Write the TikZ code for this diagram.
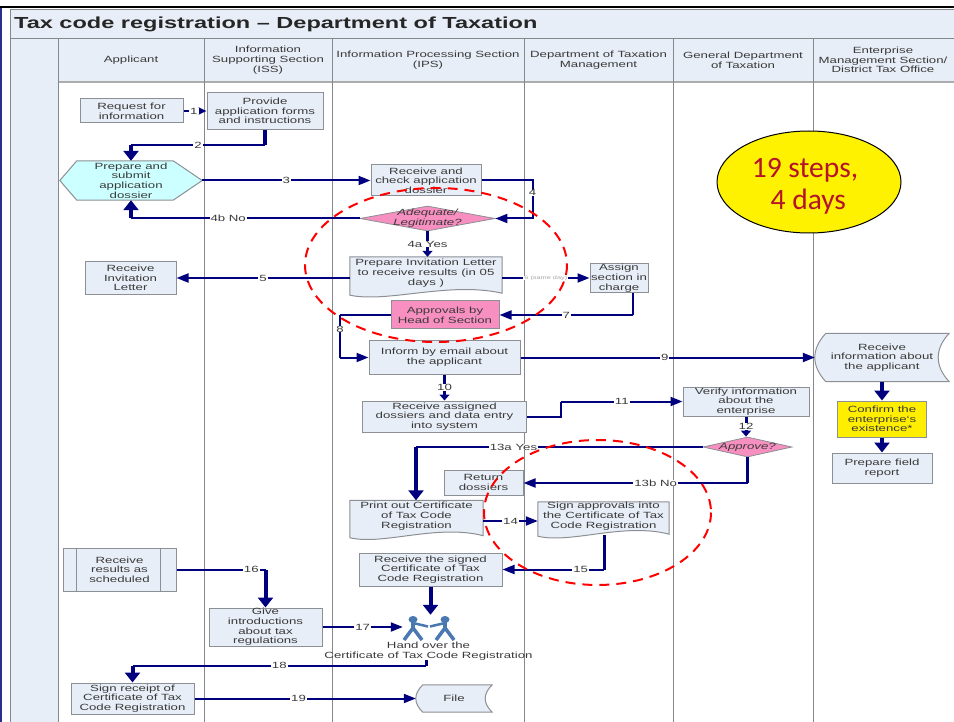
\documentclass[tikz,border=0pt]{standalone}
\usepackage{fontspec}
\setmainfont[FakeStretch=1.47]{Liberation Sans}
\newfontfamily\notefont{Carlito}
\definecolor{flowblue}{HTML}{00007F}
\definecolor{boxfill}{HTML}{E8EEF7}
\definecolor{boxline}{HTML}{8C9094}
\definecolor{textgray}{HTML}{3A3A3A}
\definecolor{laneline}{HTML}{85888C}
\definecolor{pinkfill}{HTML}{F78FC0}
\definecolor{cyanfill}{HTML}{CCFFFF}
\definecolor{confirmfill}{HTML}{FFEE00}
\definecolor{stepsred}{HTML}{B5122B}
\definecolor{manblue}{HTML}{4A78B0}
\definecolor{sideblue}{HTML}{2C2E8C}
\usetikzlibrary{
    arrows.meta,
    backgrounds,
    calc,
    shapes.geometric
}

\begin{document}
\begin{tikzpicture}[
    x=1pt,
    y=-1pt,
    every node/.style = {
        align=center,
        inner sep=0pt,
        text=textgray,
        font=\fontsize{9}{9.7}\selectfont
    },
    wh/.style 2 args = {
        minimum width=#1pt,
        minimum height=#2pt
    },
    box/.style = {
        draw=boxline,
        fill=boxfill,
        line width=1pt
    },
    decision/.style = {
        draw=boxline,
        fill=pinkfill,
        diamond,
        line width=0.8pt
    },
    shapeline/.style = {
        draw=boxline,
        fill=boxfill,
        line width=1pt
    },
    flow/.style = {
        draw=flowblue,
        line width=2pt
    },
    flowto/.style = {
        flow,
        -{Triangle[length=12pt,width=9pt]}
    },
    stem/.style = {
        draw=flowblue,
        line width=4pt
    },
    drop/.style = {
        stem,
        -{Triangle[length=10pt,width=15pt]}
    },
    smalldrop/.style = {
        draw=flowblue,
        line width=3pt,
        -{Triangle[length=6pt,width=10pt]}
    },
    num/.style = {
        fill=white,
        inner xsep=1pt
    },
    reddash/.style = {
        draw=red,
        line width=2pt,
        dash pattern=on 10pt off 7pt
    },
]
    \def\wavedoc#1{
        \draw [shapeline] (#1.north west) -- (#1.north east)
            -- ($(#1.south east)+(0,4)$)
            .. controls ($(#1.south east)!.35!(#1.south west)+(0,-8)$)
            and ($(#1.south west)!.25!(#1.south east)+(0,14)$)
            .. ($(#1.south west)+(0,6)$) -- cycle;
    }
    \def\storeshape#1#2{
        \draw [shapeline] ($(#1.north west)+(#2,0)$) -- (#1.north east)
            .. controls ($(#1.north east)!.66!(#1.east)+(-4*#2/3,0)$)
            and ($(#1.south east)!.66!(#1.east)+(-4*#2/3,0)$) .. (#1.south east)
            -- ($(#1.south west)+(#2,0)$)
            .. controls ($(#1.south west)!.66!(#1.west)+(-#2/3,0)$)
            and ($(#1.north west)!.66!(#1.west)+(-#2/3,0)$) .. cycle;
    }

    \useasboundingbox (0,0) rectangle (954,722);

    % Title and lane headers
    \node [font=\bfseries\fontsize{16}{18}\selectfont,anchor=west,text=black!85]
        (title) at (14,24) {Tax code registration -- Department of Taxation};
    \node (head_applicant) at (131,60) {Applicant};
    \node (head_iss) at (268,60) {Information\\ Supporting Section\\ (ISS)};
    \node (head_ips) at (428,60) {Information Processing Section\\ (IPS)};
    \node (head_mgmt) at (598.5,60) {Department of Taxation\\ Management};
    \node (head_general) at (743,60) {General Department\\ of Taxation};
    \node (head_district) at (883,60) {Enterprise\\ Management Section/\\ District Tax Office};

    % Applicant and ISS lanes
    \node [box,wh={103}{24}] (request_info) at (131.5,111) {Request for\\ information};
    \node [box,wh={116}{37}] (provide_forms) at (265,111) {Provide\\ application forms\\ and instructions};
    \node [wh={142}{39}] (prepare_dossier) at (131,180.5) {Prepare and\\ submit\\ application\\ dossier};
    \node [box,wh={91}{33}] (receive_letter) at (130.5,278) {Receive\\ Invitation\\ Letter};
    \node [box,wh={113}{43}] (results) at (119.5,569.5) {Receive\\ results as\\ scheduled};
    \node [box,wh={113}{38}] (give_intro) at (265.5,627) {Give\\ introductions\\ about tax\\ regulations};
    \node [box,wh={123}{31}] (sign_receipt) at (132.5,698.5) {Sign receipt of\\ Certificate of Tax\\ Code Registration};

    % IPS lane
    \node [box,wh={110}{31}] (check_dossier) at (426,180.5) {Receive and\\ check application\\ dossier};
    \node [decision,wh={135}{25},label={center:\itshape Adequate/\\ \itshape Legitimate?}]
        (adequate) at (427.5,218.5) {};
    \node [wh={152}{32}] (invitation_letter) at (426,273) {Prepare Invitation Letter\\ to receive results (in 05\\ days )};
    \node [box,fill=pinkfill,wh={108}{28}] (head_approval) at (445,315) {Approvals by\\ Head of Section};
    \node [box,wh={151}{33}] (inform_email) at (444.5,357.5) {Inform by email about\\ the applicant};
    \node [box,wh={164}{31}] (assigned_dossiers) at (444.5,416.5) {Receive assigned\\ dossiers and data entry\\ into system};
    \node [box,wh={79}{25}] (return_dossiers) at (483.5,482.5) {Return\\ dossiers};
    \node [wh={133}{31}] (print_cert) at (416.5,516) {Print out Certificate\\ of Tax Code\\ Registration};
    \node [box,wh={143}{33}] (signed_cert) at (430.5,569.5) {Receive the signed\\ Certificate of Tax\\ Code Registration};
    \node [wh={52}{24}] (handover) at (429,627) {};
    \node (handover_text) at (428.5,651) {Hand over the\\ Certificate of Tax Code Registration};
    \node [wh={76}{27}] (file_copy) at (454,698.5) {File};

    % Management, general department and district lanes
    \node [box,wh={58}{29}] (assign_section) at (619,278) {Assign\\ section in\\ charge};
    \node [wh={131}{28}] (sign_cert) at (603.5,516) {Sign approvals into\\ the Certificate of Tax\\ Code Registration};
    \node [box,wh={126}{29}] (verify_info) at (746,401.5) {Verify information\\ about the\\ enterprise};
    \node [decision,wh={89}{20},label={center:\itshape Approve?}] (approve) at (747.5,447) {};
    \node [wh={134}{48}] (receive_info) at (882,357.5) {Receive\\ information about\\ the applicant};
    \node [box,fill=confirmfill,wh={89}{36}] (confirm_exist) at (882,419) {Confirm the\\ enterprise`s\\ existence*};
    \node [box,wh={100}{30}] (field_report) at (882,468) {Prepare field\\ report};

    % Lanes and shapes behind the nodes
    \begin{scope}[on background layer]
        \fill [sideblue] (0,8) rectangle (2,722);
        \fill [black] (0,6) rectangle (954,8);
        \fill [boxfill] (10,10) rectangle (954,38);
        \fill [boxfill] (58,38) rectangle (954,82);
        \fill [boxfill] (10,38) rectangle (58,722);
        \draw [laneline,line width=1pt] (954,10) -- (10,10) -- (10,722);
        \draw [laneline,line width=1pt] (10,38.5) -- (954,38.5);
        \draw [laneline!70,line width=1.5pt] (58,82) -- (954,82);
        \foreach \lanex in {58,204,332,524,673,813} {
            \draw [laneline,line width=1pt] (\lanex,38.5) -- (\lanex,722);
        }
        \draw [shapeline,fill=cyanfill] (prepare_dossier.west)
            -- ($(prepare_dossier.north west)+(17,0)$)
            -- ($(prepare_dossier.north east)+(-29,0)$)
            -- (prepare_dossier.east)
            -- ($(prepare_dossier.south east)+(-29,0)$)
            -- ($(prepare_dossier.south west)+(17,0)$) -- cycle;
        \wavedoc{invitation_letter}
        \wavedoc{print_cert}
        \wavedoc{sign_cert}
        \storeshape{receive_info}{11}
        \storeshape{file_copy}{7}
    \end{scope}
    \draw [boxline,line width=1pt] ($(results.north west)+(14,0)$) -- ($(results.south west)+(14,0)$);
    \draw [boxline,line width=1pt] ($(results.north east)+(-16,0)$) -- ($(results.south east)+(-16,0)$);

    % Two men handing over
    \begin{scope}[manblue,line width=3.5pt]
        \foreach \manx/\handx in {413/428,445/430} {
            \fill (\manx,619.5) ellipse [x radius=4.5,y radius=3.5];
            \draw (\manx-9,640) -- (\manx,628) -- (\manx+9,640);
            \draw (\manx,621) -- (\manx,629);
            \draw [line width=2.5pt] (\manx,623) -- (\handx,626.5);
        }
    \end{scope}

    % Connectors
    \coordinate (bend_2a) at (265,145.5);
    \coordinate (bend_2b) at (131,145.5);
    \coordinate (bend_4b) at (131,218.5);
    \coordinate (bend_7) at (633,315);
    \coordinate (bend_8a) at (340,315);
    \coordinate (bend_8b) at (340,357.5);
    \coordinate (bend_11a) at (561,416.5);
    \coordinate (bend_11b) at (561,401.5);
    \coordinate (bend_13a) at (416,447);
    \coordinate (bend_13b) at (747.5,483);
    \coordinate (sign_foot) at (604,535);
    \coordinate (bend_15) at (604,569.5);
    \coordinate (bend_16) at (265.5,569.5);
    \coordinate (bend_18a) at (426,665.5);
    \coordinate (bend_18b) at (132.5,665.5);

    \draw [flow,-{Triangle[length=8pt,width=7pt]}] (request_info) -- node [num,pos=0.45] {1} (provide_forms);
    \draw [stem] (provide_forms) -- (bend_2a);
    \draw [flow] (bend_2a) -- node [num] {2} (bend_2b);
    \draw [drop] (bend_2b) -- (prepare_dossier);

    \draw [flowto] (prepare_dossier) -- node [num] {3} (check_dossier);
    \draw [flowto] (check_dossier.east) -- ++(51,0) |- node [num,pos=0.16] {4} (adequate.east);
    \draw [flow] (adequate.west) -- node [num,pos=0.575] {4b No} (bend_4b);
    \draw [drop] (bend_4b) -- (prepare_dossier.south);
    \draw [smalldrop] (adequate.south) -- node [num] {4a Yes} (adequate.south |- invitation_letter.north);

    \draw [flowto] ([yshift=-5pt]invitation_letter.west) -- node [num] {5} (receive_letter.east);
    \draw [flowto] ([yshift=-5pt]invitation_letter.east) -- node [num,font=\fontsize{5}{5}\selectfont,text=gray!70] {6 (same day)} (assign_section.west);
    \draw [flow] (assign_section.south -| bend_7) -- (bend_7);
    \draw [flowto] (bend_7) -- node [num] {7} (head_approval.east);
    \draw [flow] (head_approval.west) -- (bend_8a);
    \draw [flow] (bend_8a) -- node [num,pos=0.33] {8} (bend_8b);
    \draw [flowto] (bend_8b) -- (inform_email.west);
    \draw [flowto] (inform_email) -- node [num,pos=0.49] {9} (receive_info);
    \draw [smalldrop] (inform_email) -- node [num] {10} (assigned_dossiers);

    \draw [flow] (assigned_dossiers.east) -- (bend_11a) -- (bend_11b);
    \draw [flowto] (bend_11b) -- node [num] {11} (verify_info.west);
    \draw [smalldrop] (verify_info) -- node [num] {12} (verify_info |- approve.north);
    \draw [flow] (approve.west) -- node [num,pos=0.66] {13a Yes} (bend_13a);
    \draw [drop] (bend_13a) -- (print_cert.north -| bend_13a);
    \draw [stem,line width=3pt] (approve.south) -- (bend_13b);
    \draw [flowto] (bend_13b) -- node [num,pos=0.41] {13b No} (bend_13b -| return_dossiers.east);
    \draw [flowto] ([yshift=-5pt]print_cert.east) -- node [num] {14} ([yshift=-5pt]sign_cert.west);
    \draw [stem,line width=3pt] (sign_foot) -- (bend_15);
    \draw [flowto] (bend_15) -- node [num,pos=0.23] {15} (signed_cert.east);

    \draw [flow] (results) -- node [num,pos=0.84] {16} (bend_16);
    \draw [drop] (bend_16) -- (give_intro);
    \draw [drop] (signed_cert) -- (signed_cert |- handover.north);
    \draw [flowto] (give_intro) -- node [num] {17} (handover.west);
    \draw [stem,line width=3pt] (handover_text.south -| bend_18a) -- (bend_18a);
    \draw [flow] (bend_18a) -- node [num] {18} (bend_18b);
    \draw [drop] (bend_18b) -- (sign_receipt);
    \draw [flowto] (sign_receipt) -- node [num,pos=0.47] {19} (file_copy.west);

    \draw [drop] (receive_info) -- (confirm_exist);
    \draw [drop] (confirm_exist) -- (field_report);

    % Notes on top
    \node [draw=black,fill=yellow,ellipse,line width=1pt,wh={184}{102},
        font=\notefont\fontsize{29.5}{32}\selectfont,text=stepsred]
        (steps_note) at (809,182) {\rule{0pt}{28pt}19 steps,\hspace*{8pt}\\ \ 4 days\hspace*{8pt}};
    \draw [reddash] (436,265) ellipse [x radius=131,y radius=77];
    \draw [reddash] (597.5,512.5) ellipse [x radius=113.5,y radius=72.5];
\end{tikzpicture}
\end{document}
